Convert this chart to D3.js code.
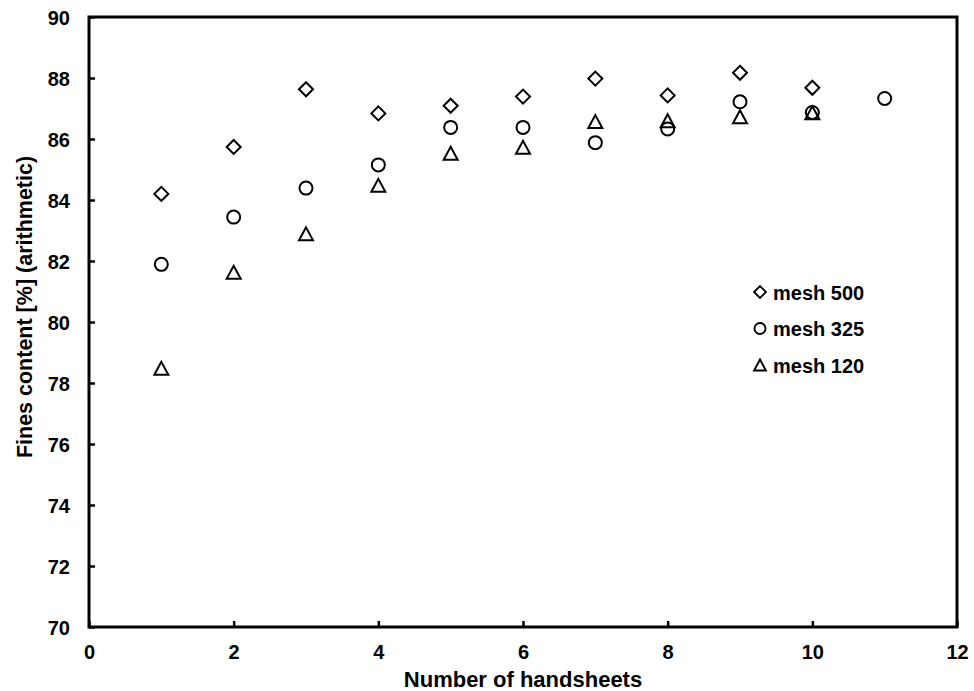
<!DOCTYPE html>
<html>
<head>
<meta charset="utf-8">
<script src="https://cdn.jsdelivr.net/npm/d3@7"></script>
<style>
  html, body { margin: 0; padding: 0; background: #fff; }
  svg text { font-family: "Liberation Sans", Arial, sans-serif; font-weight: bold; fill: #000; }
</style>
</head>
<body>
<svg id="chart" width="974" height="691"></svg>
<script>
// ---- data ----
const handsheets500 = [1, 2, 3, 4, 5, 6, 7, 8, 9, 10];
const mesh500 = [84.20, 85.74, 87.63, 86.84, 87.09, 87.39, 87.98, 87.43, 88.17, 87.68];
const handsheets325 = [1, 2, 3, 4, 5, 6, 7, 8, 9, 10, 11];
const mesh325 = [81.89, 83.44, 84.39, 85.15, 86.38, 86.38, 85.88, 86.33, 87.22, 86.87, 87.33];
const handsheets120 = [1, 2, 3, 4, 5, 6, 7, 8, 9, 10];
const mesh120 = [78.48, 81.63, 82.89, 84.48, 85.53, 85.73, 86.57, 86.60, 86.73, 86.86];
const xTicks = [0, 2, 4, 6, 8, 10, 12];
const yTicks = [70, 72, 74, 76, 78, 80, 82, 84, 86, 88, 90];
const seriesNames = ["mesh 500", "mesh 325", "mesh 120"];
const seriesShapes = ["diamond", "circle", "triangle"];

// ---- layout ----
const L = 89, T = 17, R = 957, B = 627;
const svg = d3.select("#chart");
const x = d3.scaleLinear().domain([0, 12]).range([L, R]);
const y = d3.scaleLinear().domain([70, 90]).range([B, T]);

function shapePath(shape) {
  if (shape === "diamond") {
    const s = 7;
    return `M0,${-s}L${s},0L0,${s}L${-s},0Z`;
  }
  if (shape === "circle") {
    const r = 6.5;
    return `M${r},0A${r},${r} 0 1,1 ${-r},0A${r},${r} 0 1,1 ${r},0Z`;
  }
  const w = 7, h = 6.5;
  return `M0,${-h}L${w},${h}L${-w},${h}Z`;
}

// frame
svg.append("rect")
  .attr("x", L).attr("y", T).attr("width", R - L).attr("height", B - T)
  .attr("fill", "none").attr("stroke", "#000").attr("stroke-width", 3);

// axes (inward ticks)
const yAxis = d3.axisLeft(y).tickValues(yTicks).tickSize(-6).tickPadding(19).tickFormat(d3.format("d"));
const gy = svg.append("g").attr("transform", `translate(${L},0)`).call(yAxis);
gy.select(".domain").remove();
gy.selectAll(".tick line").attr("stroke", "#000").attr("stroke-width", 2.5);
gy.selectAll(".tick text").attr("font-size", 20).attr("dy", "0.35em").attr("x", -19);

const xAxis = d3.axisBottom(x).tickValues(xTicks).tickSize(-6).tickPadding(18).tickFormat(d3.format("d"));
const gx = svg.append("g").attr("transform", `translate(0,${B})`).call(xAxis);
gx.select(".domain").remove();
gx.selectAll(".tick line").attr("stroke", "#000").attr("stroke-width", 2.5);
gx.selectAll(".tick text").attr("font-size", 20).attr("dy", "0.71em").attr("y", 18);

// axis titles
svg.append("text")
  .attr("x", 523).attr("y", 687)
  .attr("text-anchor", "middle").attr("font-size", 22)
  .text("Number of handsheets");
svg.append("text")
  .attr("transform", "translate(32,307) rotate(-90)")
  .attr("text-anchor", "middle").attr("font-size", 21.5)
  .text("Fines content [%] (arithmetic)");

// series
const series = [
  { xs: handsheets500, ys: mesh500 },
  { xs: handsheets325, ys: mesh325 },
  { xs: handsheets120, ys: mesh120 }
];
series.forEach((s, i) => {
  svg.append("g").selectAll("path")
    .data(s.xs.map((v, j) => [v, s.ys[j]]))
    .join("path")
    .attr("d", shapePath(seriesShapes[i]))
    .attr("transform", d => `translate(${x(d[0])},${y(d[1])})`)
    .attr("fill", "none").attr("stroke", "#000").attr("stroke-width", 2);
});

// legend
const lg = svg.append("g").attr("transform", "translate(760,292)");
seriesNames.forEach((name, i) => {
  const row = lg.append("g").attr("transform", `translate(0,${i * 36.5})`);
  row.append("path").attr("d", shapePath(seriesShapes[i]))
    .attr("transform", "scale(0.85)")
    .attr("fill", "none").attr("stroke", "#000").attr("stroke-width", 2.2);
  row.append("text").attr("x", 13).attr("y", 7.5).attr("font-size", 20).text(name);
});
</script>
</body>
</html>
